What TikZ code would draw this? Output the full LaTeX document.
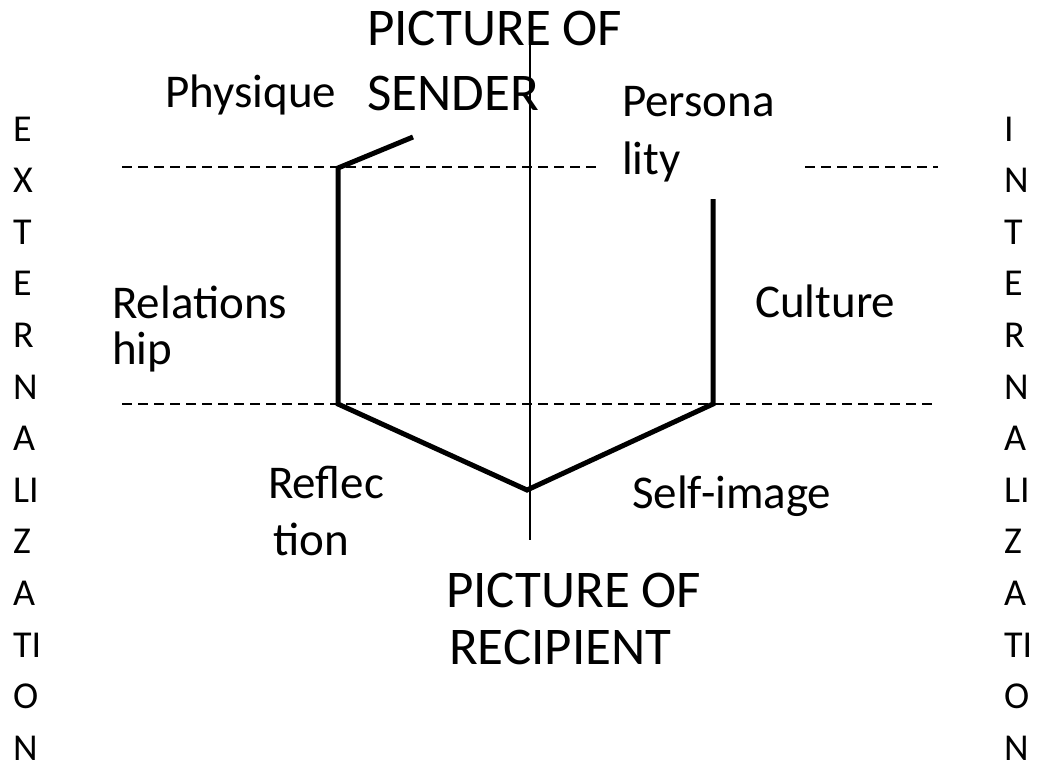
\documentclass[tikz,border=0pt]{standalone}
\usepackage{fontspec}
\setmainfont{Carlito}
\begin{document}
\begin{tikzpicture}[x=1pt,y=-1pt,
  lbl/.style={anchor=base west,inner sep=0pt,font=\fontsize{47}{56}\selectfont},
  big/.style={anchor=base west,inner sep=0pt,font=\fontsize{53}{63}\selectfont},
  side/.style={anchor=base west,inner sep=0pt,font=\fontsize{38}{46}\selectfont},
  guide/.style={line width=1.5pt,dash pattern=on 10pt off 6pt},
  axis/.style={line width=1.6pt},
  profile/.style={line width=5pt,line join=miter}]
\useasboundingbox (0,0) rectangle (1048,764);

% reference levels
\coordinate (gl1) at (122,167);
\coordinate (gr1) at (600,167);
\coordinate (gl2) at (805,167);
\coordinate (gr2) at (938,167);
\coordinate (hl1) at (122,404);
\coordinate (hr1) at (938,404);
\draw[guide] (gl1) -- (gr1);
\draw[guide] (gl2) -- (gr2);
\draw[guide] (hl1) -- (hr1);

% central axis
\coordinate (atop) at (530,42);
\coordinate (abot) at (530,540);
\draw[axis] (atop) -- (abot);

% profile
\coordinate (p0) at (413,137);
\coordinate (p1) at (338,168);
\coordinate (p2) at (338,404);
\coordinate (p3) at (527,490);
\coordinate (p4) at (713,404);
\coordinate (p5) at (713,199);
\draw[profile] (p0) -- (p1) -- (p2) -- (p3) -- (p4) -- (p5);

% labels
\node[big] (s1) at (367,45) {PICTURE OF};
\node[big] (s2) at (367,110) {SENDER};
\node[lbl] (phy) at (165,107) {Physique};
\node[lbl] (per1) at (622,116) {Persona};
\node[lbl] (per2) at (622,174) {lity};
\node[lbl] (rel1) at (112,318) {Relations};
\node[lbl] (rel2) at (112,364) {hip};
\node[lbl] (cul) at (755,317) {Culture};
\node[lbl] (ref1) at (268,498) {Reflec};
\node[lbl] (ref2) at (273,555) {tion};
\node[lbl] (self) at (632,508) {Self-image};
\node[big] (r1) at (446,607) {PICTURE OF};
\node[big] (r2) at (449,664) {RECIPIENT};

% side columns
\foreach \t [count=\i from 0] in {E,X,T,E,R,N,A,LI,Z,A,TI,O,N}
  \node[side] (ext\i) at (13,141+51.6*\i) {\t};
\foreach \t [count=\i from 0] in {I,N,T,E,R,N,A,LI,Z,A,TI,O,N}
  \node[side] (int\i) at (1004,141+51.6*\i) {\t};
\end{tikzpicture}
\end{document}
